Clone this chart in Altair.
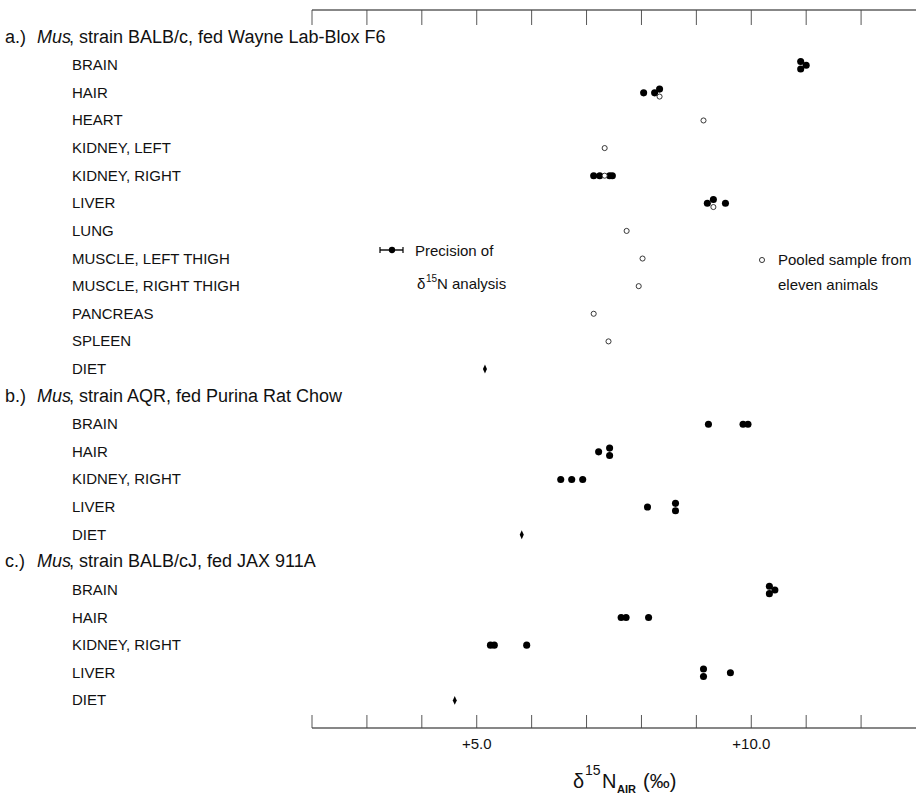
import altair as alt
import pandas as pd

# ---------------- data ----------------
group_tags = ["a.)", "b.)", "c.)"]
genus = "Mus"
group_desc = [", strain BALB/c, fed Wayne Lab-Blox F6",
              ", strain AQR, fed Purina Rat Chow",
              ", strain BALB/cJ, fed JAX 911A"]

tissues_a = ["BRAIN", "HAIR", "HEART", "KIDNEY, LEFT", "KIDNEY, RIGHT", "LIVER",
             "LUNG", "MUSCLE, LEFT THIGH", "MUSCLE, RIGHT THIGH", "PANCREAS",
             "SPLEEN", "DIET"]
tissues_b = ["BRAIN", "HAIR", "KIDNEY, RIGHT", "LIVER", "DIET"]
tissues_c = ["BRAIN", "HAIR", "KIDNEY, RIGHT", "LIVER", "DIET"]

# individual animals (filled dots), per mil
animals_a = {"BRAIN": [10.9, 10.9, 11.0],
             "HAIR": [8.04, 8.24, 8.33],
             "KIDNEY, RIGHT": [7.13, 7.24, 7.42, 7.47],
             "LIVER": [9.20, 9.31, 9.53]}
animals_b = {"BRAIN": [9.22, 9.85, 9.94],
             "HAIR": [7.22, 7.42, 7.42],
             "KIDNEY, RIGHT": [6.53, 6.73, 6.93],
             "LIVER": [8.11, 8.62, 8.62]}
animals_c = {"BRAIN": [10.33, 10.33, 10.43],
             "HAIR": [7.63, 7.72, 8.13],
             "KIDNEY, RIGHT": [5.25, 5.32, 5.91],
             "LIVER": [9.13, 9.13, 9.62]}

# pooled samples from eleven animals (open circles), group a only
pooled_a = {"HAIR": 8.33, "HEART": 9.13, "KIDNEY, LEFT": 7.33,
            "KIDNEY, RIGHT": 7.33, "LIVER": 9.31, "LUNG": 7.73,
            "MUSCLE, LEFT THIGH": 8.02, "MUSCLE, RIGHT THIGH": 7.95,
            "PANCREAS": 7.13, "SPLEEN": 7.40}

diet_values = [5.15, 5.82, 4.60]

tick_values = [2, 3, 4, 5, 6, 7, 8, 9, 10, 11, 12]
label_values = [5.0, 10.0]
x_domain = [2, 13]

legend_left = ["Precision of", "analysis"]
legend_right = ["Pooled sample from", "eleven animals"]

# ---------------- build tables ----------------
FONT = "Liberation Sans"
INK = "#111"
W, H = 604, 718
ROWS = [-1, 25]

groups = [(group_tags[0], group_desc[0], tissues_a, animals_a, pooled_a, diet_values[0]),
          (group_tags[1], group_desc[1], tissues_b, animals_b, {}, diet_values[1]),
          (group_tags[2], group_desc[2], tissues_c, animals_c, {}, diet_values[2])]

headers, labels, pts = [], [], []
row = 0
for tag, desc, tissues, animals, pooled, diet in groups:
    headers.append({"row": row, "tag": tag, "genus": genus, "desc": desc})
    row += 1
    for t in tissues:
        labels.append({"row": row, "label": t})
        if t == "DIET":
            pts.append({"row": row, "v": diet, "kind": "diet"})
        else:
            for v in animals.get(t, []):
                pts.append({"row": row, "v": v, "kind": "animal"})
            if t in pooled:
                pts.append({"row": row, "v": pooled[t], "kind": "pooled"})
        row += 1

pts = pd.DataFrame(pts)
pts["key"] = pts["v"].round(2)
pts["k"] = pts.groupby(["row", "key"]).cumcount()
pts["n"] = pts.groupby(["row", "key"])["v"].transform("count")
pts["yy"] = pts["row"] + (pts["k"] - (pts["n"] - 1) / 2) * 0.27

headers = pd.DataFrame(headers)
labels = pd.DataFrame(labels)
ticks = pd.DataFrame({"t": tick_values})
tick_labels = pd.DataFrame({"v": label_values})
frame = pd.DataFrame({"x": [x_domain[0]], "x2": [x_domain[1]]})

xs = alt.Scale(domain=x_domain, nice=False, zero=False)
ys = alt.Scale(domain=ROWS, nice=False, zero=False, reverse=True)


def X(field):
    return alt.X(field, scale=xs, axis=None)


def Y(field):
    return alt.Y(field, scale=ys, axis=None)


# ---------------- layers ----------------
top_line = alt.Chart(frame).mark_rule(color=INK, strokeWidth=1.2).encode(
    x=X("x:Q"), x2="x2:Q", y=alt.value(0))
bottom_line = alt.Chart(frame).mark_rule(color=INK, strokeWidth=1.2).encode(
    x=X("x:Q"), x2="x2:Q", y=alt.value(H))
top_ticks = alt.Chart(ticks).mark_rule(color="#444", strokeWidth=0.9).encode(
    x=X("t:Q"), y=alt.value(0), y2=alt.value(15))
bottom_ticks = alt.Chart(ticks).mark_rule(color="#444", strokeWidth=0.9).encode(
    x=X("t:Q"), y=alt.value(H - 13), y2=alt.value(H))
tick_text = alt.Chart(tick_labels).transform_calculate(
    lab="format(datum.v, '+.1f')").mark_text(
    align="center", baseline="alphabetic", font=FONT, fontSize=15, color=INK).encode(
    x=X("v:Q"), y=alt.value(739), text="lab:N")

label_text = alt.Chart(labels).mark_text(
    align="left", baseline="middle", font=FONT, fontSize=15, color=INK).encode(
    x=alt.value(-240), y=Y("row:Q"), text="label:N")
tag_text = alt.Chart(headers).mark_text(
    align="left", baseline="middle", font=FONT, fontSize=18, color=INK).encode(
    x=alt.value(-307), y=Y("row:Q"), text="tag:N")
genus_text = alt.Chart(headers).mark_text(
    align="left", baseline="middle", font=FONT, fontSize=18, fontStyle="italic",
    color=INK).encode(
    x=alt.value(-275), y=Y("row:Q"), text="genus:N")
desc_text = alt.Chart(headers).mark_text(
    align="left", baseline="middle", font=FONT, fontSize=18, color=INK).encode(
    x=alt.value(-243), y=Y("row:Q"), text="desc:N")

animal_pts = alt.Chart(pts).transform_filter(alt.datum.kind == "animal").mark_circle(
    size=50, color="black", opacity=1).encode(x=X("v:Q"), y=Y("yy:Q"))
pooled_pts = alt.Chart(pts).transform_filter(alt.datum.kind == "pooled").mark_point(
    shape="circle", size=26, filled=True, fill="white", stroke="#222",
    strokeWidth=0.9, opacity=1).encode(x=X("v:Q"), y=Y("yy:Q"))
diet_pts = alt.Chart(pts).transform_filter(alt.datum.kind == "diet").mark_point(
    shape="M0,-1L0.45,0L0,1L-0.45,0Z", size=80, filled=True, color="black",
    opacity=1).encode(x=X("v:Q"), y=Y("yy:Q"))

one = pd.DataFrame({"a": [0]})


def txt(text, x, y, size=15, baseline="middle", **kw):
    return alt.Chart(one).mark_text(text=text, align="left", baseline=baseline,
                                    font=FONT, fontSize=size, color=INK, **kw).encode(
        x=alt.value(x), y=alt.value(y))


# legend: precision of analysis
whisker = alt.Chart(one).mark_rule(color="black", strokeWidth=1.4).encode(
    x=alt.value(68), x2=alt.value(91), y=alt.value(240))
cap_l = alt.Chart(one).mark_rule(color="black", strokeWidth=1.2).encode(
    x=alt.value(68), y=alt.value(237), y2=alt.value(243))
cap_r = alt.Chart(one).mark_rule(color="black", strokeWidth=1.2).encode(
    x=alt.value(91), y=alt.value(237), y2=alt.value(243))
whisker_dot = alt.Chart(one).mark_circle(size=40, color="black", opacity=1).encode(
    x=alt.value(80), y=alt.value(240))
prec1 = txt(legend_left[0], 103, 241)
delta_l = txt("δ", 105, 279, baseline="alphabetic")
sup_l = txt("15", 114, 272, size=10, baseline="alphabetic")
n_l = txt("N " + legend_left[1], 125, 279, baseline="alphabetic")

# legend: pooled sample
pool_sym = alt.Chart(one).mark_point(shape="circle", size=26, filled=True, fill="white",
                                     stroke="#222", strokeWidth=0.9, opacity=1).encode(
    x=alt.value(450), y=alt.value(250))
pool1 = txt(legend_right[0], 466, 250)
pool2 = txt(legend_right[1], 466, 275)

# x-axis title: δ15N_AIR (‰)
t_delta = txt("δ", 261, 778, size=20, baseline="alphabetic")
t_sup = txt("15", 273, 765, size=14, baseline="alphabetic")
t_n = txt("N", 290, 778, size=20, baseline="alphabetic")
t_sub = txt("AIR", 305, 783, size=11, baseline="alphabetic", fontWeight="bold")
t_unit = txt("(‰)", 331, 778, size=20, baseline="alphabetic")

chart = alt.layer(
    top_line, bottom_line, top_ticks, bottom_ticks, tick_text,
    label_text, tag_text, genus_text, desc_text,
    animal_pts, pooled_pts, diet_pts,
    whisker, cap_l, cap_r, whisker_dot, prec1, delta_l, sup_l, n_l,
    pool_sym, pool1, pool2,
    t_delta, t_sup, t_n, t_sub, t_unit,
).properties(
    width=W, height=H,
    autosize=alt.AutoSizeParams(type="none"),
    padding={"left": 312, "top": 10, "right": 0, "bottom": 68},
    background="white",
).configure_view(stroke=None)

chart.save("out.html", embed_options={"renderer": "svg", "actions": False})
